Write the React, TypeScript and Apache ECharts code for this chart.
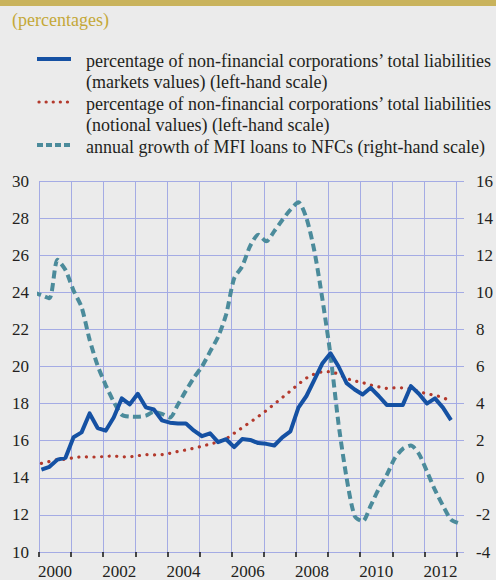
import React, { useEffect, useRef } from "react";
import * as echarts from "echarts";

// ---------- data ----------
const titleText = "(percentages)";

const legendLabels = [
  "percentage of non-financial corporations’ total liabilities\n(markets values) (left-hand scale)",
  "percentage of non-financial corporations’ total liabilities\n(notional values) (left-hand scale)",
  "annual growth of MFI loans to NFCs (right-hand scale)",
];

const yearLabels = ["2000", "2002", "2004", "2006", "2008", "2010", "2012"];
const yearTicks = [2000, 2001, 2002, 2003, 2004, 2005, 2006, 2007, 2008, 2009, 2010, 2011, 2012, 2013];

function makeQuarters(startYear: number, startQ: number, count: number): string[] {
  const out: string[] = [];
  let y = startYear;
  let q = startQ;
  for (let i = 0; i < count; i++) {
    out.push(`${y}Q${q}`);
    q++;
    if (q > 4) {
      q = 1;
      y++;
    }
  }
  return out;
}

// market values (left-hand scale), 2000Q1 - 2012Q4
const marketValues = [
  14.44, 14.59, 14.98, 15.08, 16.19, 16.45, 17.47, 16.68, 16.54, 17.25,
  18.28, 17.96, 18.53, 17.8, 17.68, 17.1, 16.97, 16.93, 16.93, 16.54,
  16.24, 16.4, 15.92, 16.08, 15.65, 16.09, 16.04, 15.87, 15.83, 15.74,
  16.18, 16.5, 17.78, 18.41, 19.29, 20.18, 20.71, 20.0, 19.1, 18.76,
  18.49, 18.85, 18.41, 17.93, 17.93, 17.93, 18.94, 18.53, 18.0, 18.28,
  17.78, 17.11,
];
const marketQuarters = makeQuarters(2000, 1, marketValues.length);

// notional values (left-hand scale), 2000Q1 - 2012Q4
const notionalValues = [
  14.78, 14.88, 14.98, 15.0, 15.08, 15.14, 15.12, 15.12, 15.15, 15.18,
  15.13, 15.13, 15.19, 15.25, 15.23, 15.25, 15.32, 15.42, 15.5, 15.6,
  15.7, 15.82, 15.93, 16.1, 16.4, 16.7, 17.0, 17.3, 17.62, 17.97,
  18.33, 18.68, 19.05, 19.38, 19.6, 19.72, 19.72, 19.6, 19.35, 19.22,
  19.13, 19.0, 18.9, 18.82, 18.85, 18.85, 18.8, 18.64, 18.53, 18.45,
  18.33, 18.12,
];
const notionalQuarters = makeQuarters(2000, 1, notionalValues.length);

// annual growth of MFI loans to NFCs (right-hand scale), 1999Q4 - 2013Q1
const loanGrowth = [
  10.0,
  9.85, 9.68, 11.75, 11.2, 10.1, 9.2, 7.45, 6.05, 5.0, 4.1,
  3.4, 3.3, 3.29, 3.35, 3.55, 3.45, 3.25, 3.95, 4.7, 5.4,
  6.0, 6.8, 7.6, 8.8, 10.75, 11.4, 12.5, 13.1, 12.75, 13.3,
  13.9, 14.45, 14.85, 14.0, 12.2, 9.6, 6.6, 2.9, 0.0, -2.05,
  -2.35, -1.5, -0.6, 0.15, 1.05, 1.56, 1.74, 1.3, 0.35, -0.65,
  -1.5, -2.25, -2.45,
];
const loanQuarters = makeQuarters(1999, 4, loanGrowth.length);

// ---------- helpers ----------
function quarterToX(q: string): number {
  const year = parseInt(q.slice(0, 4), 10);
  const qq = parseInt(q.slice(5), 10);
  return year + (qq - 1) * 0.25 + 0.075;
}

function pairs(quarters: string[], values: number[]) {
  return values.map((v, i) => [quarterToX(quarters[i]), v]);
}

const FONT = "Liberation Serif";
const BLUE = "#1551a3";
const RED = "#b3392c";
const TEAL = "#4b8b9b";
const GRID = "#a4abe4";
const TEXT = "#231f20";
const GOLD = "#c4a838";

export default function App() {
  const ref = useRef<HTMLDivElement>(null);

  useEffect(() => {
    if (!ref.current) return;
    const chart = echarts.init(ref.current, undefined, { renderer: "svg" });

    const legendY = [59, 102, 145];
    const legendTextTop = [50, 93, 136];

    const option: any = {
      animation: false,
      backgroundColor: "#ebebeb",
      textStyle: { fontFamily: FONT },
      grid: { left: 39, right: 32, top: 181, bottom: 24, containLabel: false },
      graphic: [
        { type: "rect", left: 0, top: 0, shape: { width: 496, height: 6 }, style: { fill: "#c9b35c" } },
        {
          type: "text",
          left: 12,
          top: 11,
          style: { text: titleText, fontSize: 18, fontFamily: FONT, fill: GOLD },
        },
        {
          type: "line",
          shape: { x1: 37, y1: legendY[0], x2: 71, y2: legendY[0] },
          style: { stroke: BLUE, lineWidth: 4 },
        },
        {
          type: "line",
          shape: { x1: 39, y1: legendY[1], x2: 71, y2: legendY[1] },
          style: { stroke: RED, lineWidth: 3.2, lineDash: [0.1, 7], lineCap: "round" },
        },
        {
          type: "line",
          shape: { x1: 37, y1: legendY[2], x2: 71, y2: legendY[2] },
          style: { stroke: TEAL, lineWidth: 4, lineDash: [6, 3] },
        },
        ...legendLabels.map((t, i) => ({
          type: "text",
          left: 86,
          top: legendTextTop[i],
          style: { text: t, fontSize: 18, fontFamily: FONT, fill: TEXT, lineHeight: 21 },
        })),
      ],
      xAxis: {
        type: "value",
        min: 2000,
        max: 2013.23,
        interval: 1,
        axisLine: {
          show: true,
          onZero: false,
          lineStyle: { color: "#111", width: 1.5, shadowColor: "#ffffff", shadowOffsetY: -2 },
        },
        axisTick: {
          show: true,
          length: 5,
          inside: false,
          customValues: yearTicks,
          lineStyle: { color: "#111", width: 1.5 },
        },
        axisLabel: {
          customValues: yearLabels.map((y) => Number(y) + 0.5),
          formatter: (v: number) => String(Math.floor(v)),
          color: TEXT,
          fontSize: 17,
          fontFamily: FONT,
          margin: 11,
        },
        splitLine: { show: true, lineStyle: { color: GRID, width: 1 } },
      },
      yAxis: [
        {
          type: "value",
          position: "left",
          min: 10,
          max: 30,
          interval: 2,
          axisLine: {
            show: true,
            lineStyle: { color: "#444", width: 1.5, shadowColor: "#ffffff", shadowOffsetX: -2 },
          },
          axisTick: { show: false },
          axisLabel: { color: TEXT, fontSize: 17, fontFamily: FONT, margin: 10 },
          splitLine: { show: true, lineStyle: { color: GRID, width: 1 } },
        },
        {
          type: "value",
          position: "right",
          min: -4,
          max: 16,
          interval: 2,
          axisLine: {
            show: true,
            lineStyle: { color: "#444", width: 1.5, shadowColor: "#ffffff", shadowOffsetX: -2 },
          },
          axisTick: { show: false },
          axisLabel: { color: TEXT, fontSize: 17, fontFamily: FONT, margin: 12 },
          splitLine: { show: false },
        },
      ],
      series: [
        {
          name: "loans",
          type: "line",
          yAxisIndex: 1,
          data: pairs(loanQuarters, loanGrowth),
          showSymbol: false,
          smooth: 0.25,
          clip: true,
          z: 2,
          lineStyle: { color: TEAL, width: 4, type: [8, 4.5] },
          markLine: {
            silent: true,
            symbol: ["none", "none"],
            label: { show: false },
            lineStyle: {
              color: "#111",
              width: 1.5,
              type: "solid",
              shadowColor: "#ffffff",
              shadowOffsetY: -2,
            },
            data: [{ yAxis: 0 }],
            z: 1,
          },
        },
        {
          name: "notional",
          type: "line",
          yAxisIndex: 0,
          data: pairs(notionalQuarters, notionalValues),
          showSymbol: false,
          z: 3,
          lineStyle: { color: RED, width: 3.2, type: [0.1, 7.5], cap: "round" },
        },
        {
          name: "market",
          type: "line",
          yAxisIndex: 0,
          data: pairs(marketQuarters, marketValues),
          showSymbol: false,
          z: 4,
          lineStyle: { color: BLUE, width: 4, join: "round" },
        },
      ],
    };

    chart.setOption(option);
    return () => chart.dispose();
  }, []);

  return (
    <div
      style={{ position: "fixed", left: 0, top: 0, width: 496, height: 580, background: "#ebebeb" }}
    >
      <div ref={ref} style={{ width: 496, height: 580 }} />
    </div>
  );
}
